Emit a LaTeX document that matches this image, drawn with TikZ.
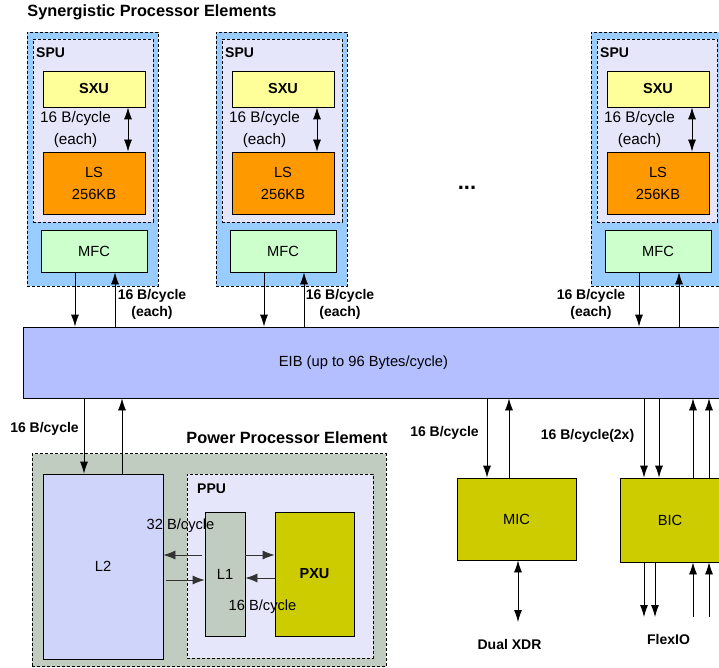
\documentclass[tikz,border=0pt]{standalone}
\usepackage{fontspec}
\setmainfont{Liberation Sans}
\usetikzlibrary{arrows.meta}
\definecolor{speblue}{HTML}{99CCFF}
\definecolor{spulav}{HTML}{E6E6FA}
\definecolor{sxuy}{HTML}{FFFF99}
\definecolor{lsor}{HTML}{FF9900}
\definecolor{mfcg}{HTML}{CCFFCC}
\definecolor{eibc}{HTML}{B3BFFF}
\definecolor{ppeg}{HTML}{BFCCBF}
\definecolor{l2c}{HTML}{CFD4FA}
\definecolor{olive}{HTML}{CCCC00}
\definecolor{arrg}{HTML}{333333}
\tikzset{
  box/.style={draw=black, line width=0.8pt, inner sep=0pt, font=\fontsize{14.7}{17}\selectfont},
  dbox/.style={draw=black, line width=0.7pt, dash pattern=on 3pt off 2pt, inner sep=0pt},
  arr/.style={line width=0.8pt, -{Latex[length=12pt,width=8pt]}},
  darr/.style={line width=0.8pt, {Latex[length=12pt,width=8pt]}-{Latex[length=12pt,width=8pt]}},
  garr/.style={line width=0.8pt, draw=arrg, -{Latex[length=12pt,width=9pt]}, arrg},
  lbl/.style={font=\fontsize{14.7}{22}\selectfont, inner sep=0pt, align=center},
  blbl/.style={font=\bfseries\fontsize{14}{17}\selectfont, inner sep=0pt, align=center},
  tlbl/.style={font=\bfseries\fontsize{16.3}{17}\selectfont, inner sep=0pt},
}
\begin{document}
\begin{tikzpicture}[x=1pt,y=-1pt]
\useasboundingbox (0,0) rectangle (719,668);
\clip (0,0) rectangle (719,668);

\node[tlbl] (title) at (152,12) {Synergistic Processor Elements};
\node[font=\bfseries\fontsize{22}{22}\selectfont, inner sep=0pt] (dots) at (467,188) {...};

\foreach \i/\dx in {1/0,2/189,3/564}{
  \node[dbox, fill=speblue, minimum width=131pt, minimum height=254pt] (spe\i) at (92.5+\dx,159) {};
  \node[dbox, fill=spulav, minimum width=120pt, minimum height=183pt] (spu\i) at (93+\dx,130.5) {};
  \node[blbl, anchor=west] (spul\i) at (36+\dx,53) {SPU};
  \node[box, fill=sxuy, minimum width=102pt, minimum height=36pt, font=\bfseries\fontsize{14.5}{17}\selectfont] (sxu\i) at (94+\dx,89) {SXU};
  \node[box, fill=lsor, minimum width=102pt, minimum height=62pt, align=center, font=\fontsize{14.7}{22}\selectfont] (ls\i) at (94+\dx,183) {LS\\256KB};
  \node[box, fill=mfcg, minimum width=106pt, minimum height=42pt] (mfc\i) at (94+\dx,251) {MFC};
  \node[lbl, font=\fontsize{15.3}{22}\selectfont] (sl\i) at (75.5+\dx,129.5) {16 B/cycle\\(each)};
  \coordinate (cs\i) at (128+\dx,0);
  \draw[darr] (sxu\i.south -| cs\i) -- (ls\i.north -| cs\i);
}

% EIB
\node[box, fill=eibc, minimum width=720pt, minimum height=71pt] (eib) at (383,362.5) {};
\node[lbl] (eibt) at (363.5,363) {EIB (up to 96 Bytes/cycle)};

\foreach \i/\dx in {1/0,2/189,3/564}{
  \coordinate (cd\i) at (75+\dx,0);
  \coordinate (cu\i) at (115+\dx,0);
  \draw[arr] (mfc\i.south -| cd\i) -- (eib.north -| cd\i);
  \draw[arr] (eib.north -| cu\i) -- (mfc\i.south -| cu\i);
}
\node[blbl] (el1) at (152,304) {16 B/cycle\\(each)};
\node[blbl] (el2) at (340,304) {16 B/cycle\\(each)};
\node[blbl] (el3) at (591,304) {16 B/cycle\\(each)};

% PPE
\node[tlbl] (ppet) at (287,438) {Power Processor Element};
\node[dbox, fill=ppeg, minimum width=354pt, minimum height=213pt] (ppe) at (209,560) {};
\node[box, fill=l2c, minimum width=120pt, minimum height=185pt] (l2) at (103,566.5) {L2};
\node[dbox, fill=spulav, minimum width=186pt, minimum height=184pt] (ppu) at (280,566) {};
\node[blbl, anchor=west] (ppul) at (197,489) {PPU};
\node[box, fill=ppeg, minimum width=40pt, minimum height=124pt] (l1) at (225,574) {L1};
\node[box, fill=olive, minimum width=79pt, minimum height=124pt, font=\bfseries\fontsize{14.5}{17}\selectfont] (pxu) at (314.5,574) {PXU};

\coordinate (ya) at (0,555);
\coordinate (yb) at (0,580);
\coordinate (yc) at (0,578);
\draw[garr, shorten <=3pt] (l1.west |- ya) -- (l2.east |- ya);
\draw[garr, shorten <=3pt] (l2.east |- yb) -- (l1.west |- yb);
\draw[garr] (l1.east |- ya) -- (pxu.west |- ya);
\draw[garr] (pxu.west |- yc) -- (l1.east |- yc);
\node[lbl] (l32) at (180.5,526) {32 B/cycle};
\node[lbl] (l16) at (262.5,607) {16 B/cycle};

\coordinate (x84) at (84,0);
\coordinate (x122) at (122,0);
\draw[arr] (eib.south -| x84) -- (l2.north -| x84);
\draw[arr] (l2.north -| x122) -- (eib.south -| x122);
\node[blbl] (l2l) at (44.5,429) {16 B/cycle};

% MIC
\node[box, fill=olive, minimum width=119pt, minimum height=82pt] (mic) at (516.5,519) {MIC};
\coordinate (x487) at (487,0);
\coordinate (x509) at (509,0);
\coordinate (x518) at (518,0);
\draw[arr] (eib.south -| x487) -- (mic.north -| x487);
\draw[arr] (mic.north -| x509) -- (eib.south -| x509);
\node[blbl] (micl) at (444.5,433) {16 B/cycle};
\coordinate (xdr) at (518,622);
\draw[darr] (mic.south -| x518) -- (xdr);
\node[blbl] (xdrl) at (509.5,644) {Dual XDR};

% BIC
\node[box, fill=olive, minimum width=100pt, minimum height=84pt] (bic) at (670,520) {BIC};
\foreach \xx in {644,659}{
  \coordinate (bd\xx) at (\xx,0);
  \draw[arr] (eib.south -| bd\xx) -- (bic.north -| bd\xx);
}
\foreach \xx in {693,709}{
  \coordinate (bu\xx) at (\xx,0);
  \draw[arr] (bic.north -| bu\xx) -- (eib.south -| bu\xx);
  \coordinate (fu\xx) at (\xx,617);
  \draw[arr] (fu\xx) -- (bic.south -| fu\xx);
}
\foreach \xx in {644,655}{
  \coordinate (fd\xx) at (\xx,617);
  \draw[arr] (bic.south -| fd\xx) -- (fd\xx);
}
\node[blbl] (bicl) at (587.5,436) {16 B/cycle(2x)};
\node[blbl] (flex) at (668.5,639) {FlexIO};
\end{tikzpicture}
\end{document}
